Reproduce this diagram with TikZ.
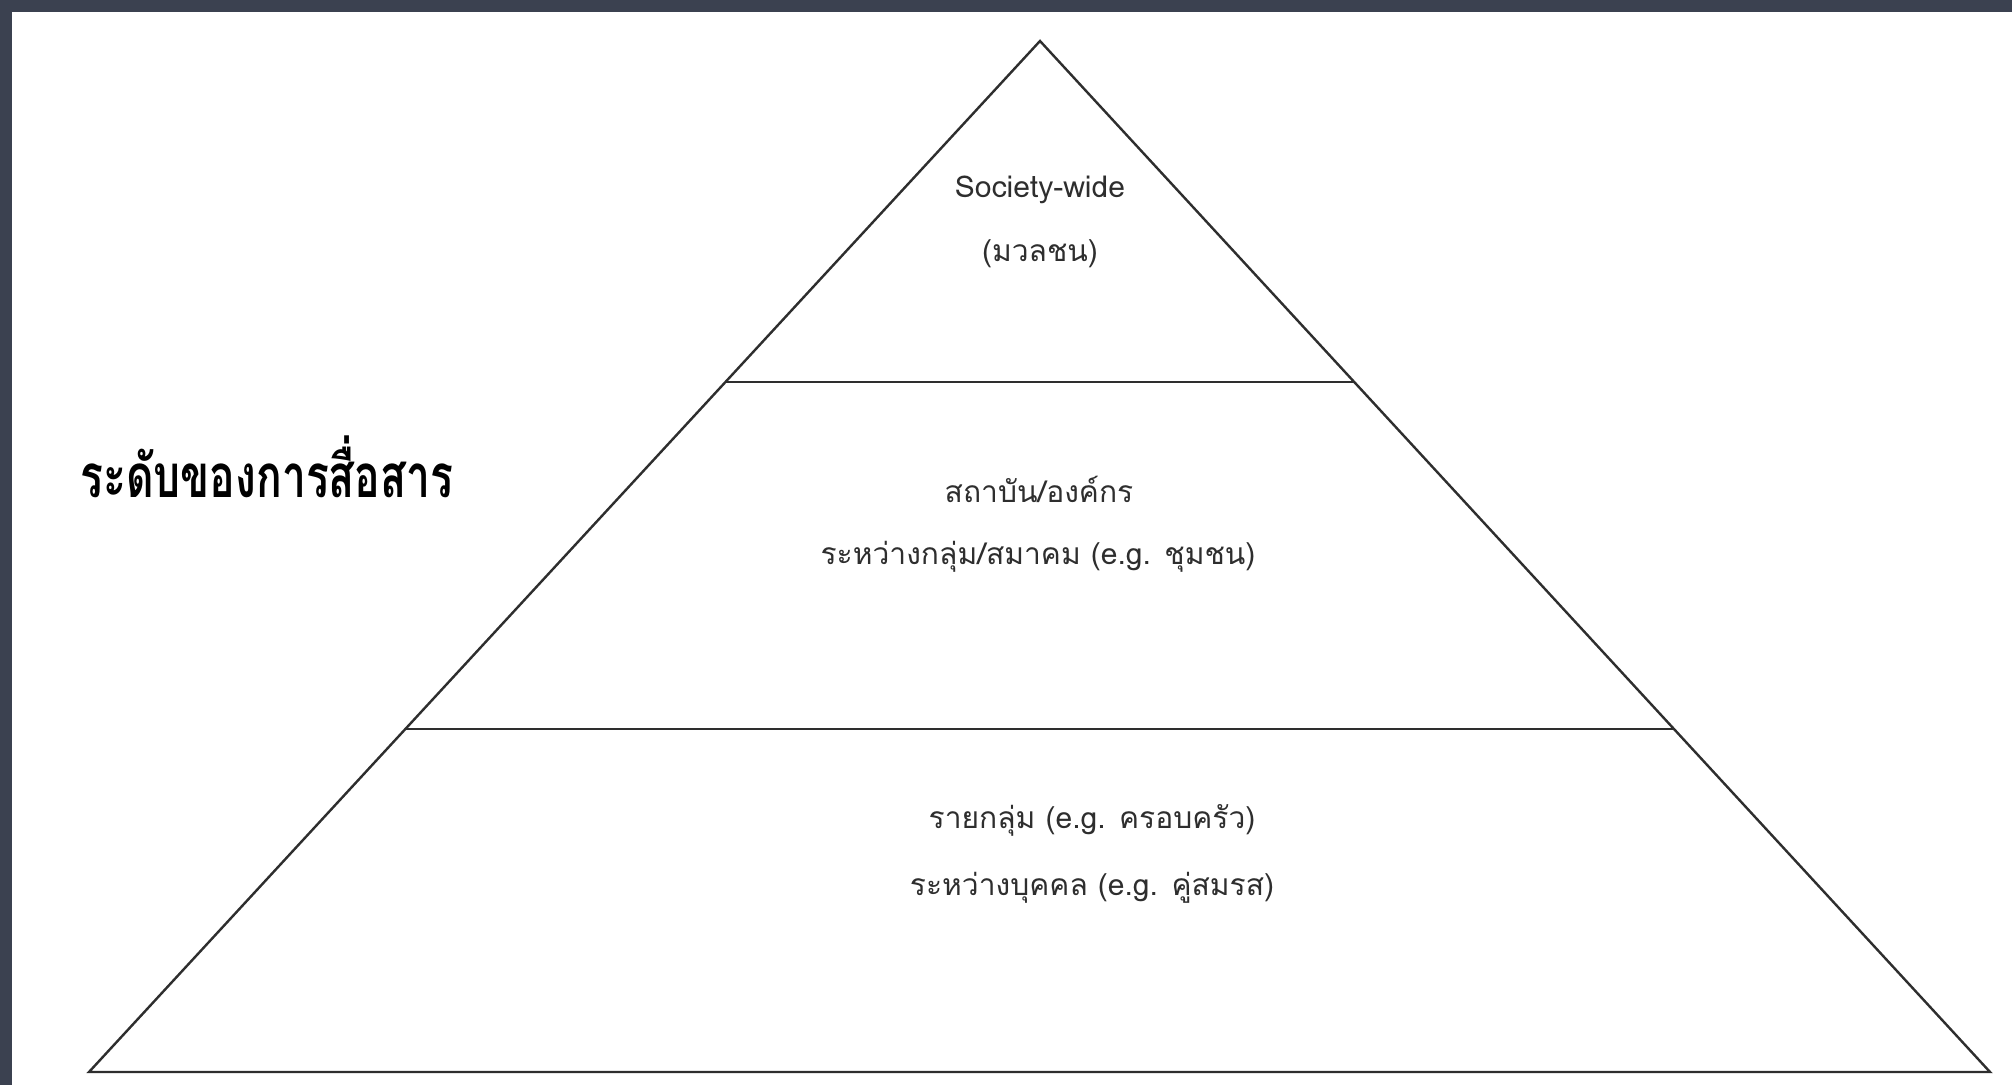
\documentclass[tikz,border=0pt]{standalone}
\usepackage{fontspec}
\usetikzlibrary{calc}
\newfontfamily\thaifont[Script=Thai]{Loma}
\newfontfamily\thaititle[Script=Thai, FakeStretch=0.71]{Loma}
\definecolor{frame}{HTML}{3B4150}
\definecolor{ink}{HTML}{2E2E2E}
\tikzset{
  lvl/.style={font=\thaifont\fontsize{15}{18}\selectfont, text=ink, inner sep=0pt, align=center},
  edge/.style={draw=ink, line width=1.2pt, line join=miter},
  title/.style={font=\thaititle\bfseries\fontsize{30}{36}\selectfont, text=black, inner sep=0pt}
}
\begin{document}
\begin{tikzpicture}[x=0.5pt,y=-0.5pt]
\useasboundingbox (0,0) rectangle (2012,1085);
\fill[white] (0,0) rectangle (2012,1085);
\fill[frame] (0,0) rectangle (2012,12);
\fill[frame] (0,0) rectangle (12,1085);
% pyramid
\coordinate (apex) at (1040,41);
\coordinate (bl) at (89,1072);
\coordinate (br) at (1990,1072);
\coordinate (l1) at ($(apex)!0.3307!(bl)$);
\coordinate (r1) at ($(apex)!0.3307!(br)$);
\coordinate (l2) at ($(apex)!0.6673!(bl)$);
\coordinate (r2) at ($(apex)!0.6673!(br)$);
\draw[edge] (apex) -- (br) -- (bl) -- cycle;
\draw[edge] (l1) -- (r1);
\draw[edge] (l2) -- (r2);
% texts
\node[lvl] (t1) at (1040,190) {Society-wide};
\node[lvl] (t2) at (1040,254) {(มวลชน)};
\node[lvl] (m1) at (1039,489) {สถาบัน/องค์กร};
\node[lvl] (m2) at (1038,557) {ระหว่างกลุ่ม/สมาคม (e.g. ชุมชน)};
\node[lvl] (b1) at (1092,820) {รายกลุ่ม (e.g. ครอบครัว)};
\node[lvl] (b2) at (1092,888) {ระหว่างบุคคล (e.g. คู่สมรส)};
\node[title, anchor=west] (lab) at (80,467) {ระดับของการสื่อสาร};
\end{tikzpicture}
\end{document}
